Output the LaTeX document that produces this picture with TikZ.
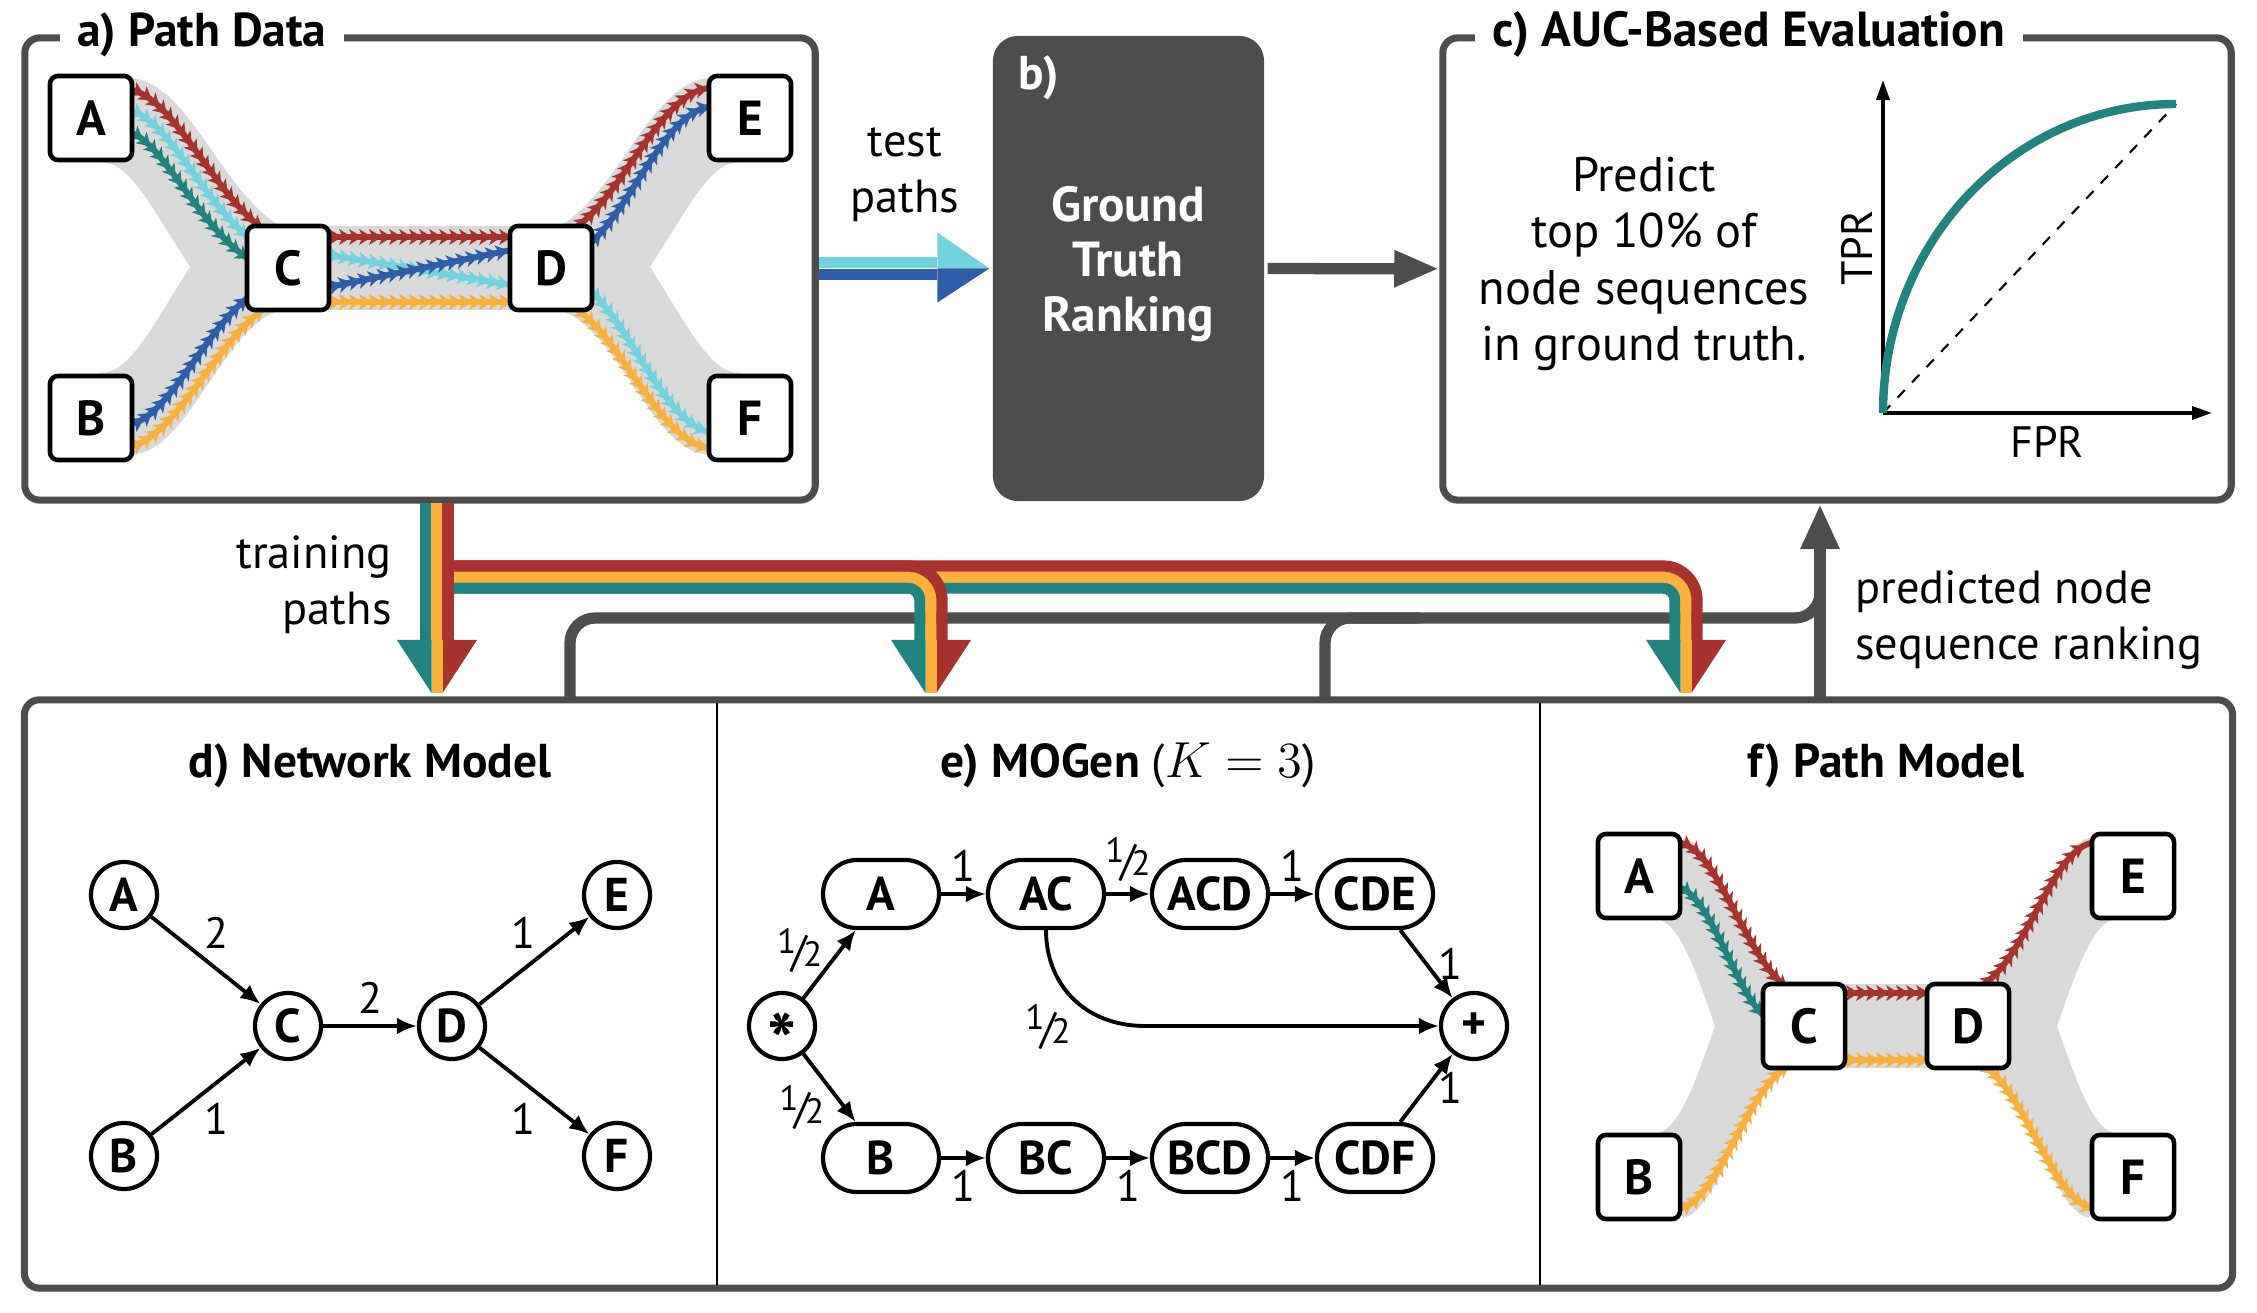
\documentclass[tikz,border=0pt]{standalone}
\usepackage{fontspec}
\setmainfont{PT Sans}
\usetikzlibrary{arrows.meta,calc,decorations.markings,shapes.misc}

\definecolor{pathred}{HTML}{A8322D}
\definecolor{pathorange}{HTML}{FBB03B}
\definecolor{pathteal}{HTML}{21837E}
\definecolor{pathcyan}{HTML}{72D3DF}
\definecolor{pathblue}{HTML}{2E5DAA}
\definecolor{panelgray}{HTML}{4D4D4D}
\definecolor{ribbongray}{HTML}{D9D9D9}

\newcommand{\halfw}{\raisebox{0.3em}{\fontsize{10}{10}\selectfont 1}\kern-0.1em/\kern-0.1em{\fontsize{10}{10}\selectfont 2}}

\tikzset{
  panel/.style={draw=panelgray, line width=2pt, rounded corners=0.15cm, fill=white, inner sep=0pt},
  paneltitle/.style={fill=white, anchor=base west, inner xsep=5pt, inner ysep=2pt, font=\fontsize{13.5}{16}\selectfont\bfseries},
  subtitle/.style={anchor=base, font=\fontsize{13.5}{16}\selectfont\bfseries},
  vbox/.style={draw, fill=white, line width=1.3pt, rounded corners=0.08cm, minimum width=0.82cm, minimum height=0.84cm, inner sep=0pt, font=\fontsize{14}{16}\selectfont\bfseries},
  vcirc/.style={draw, fill=white, circle, line width=1.2pt, minimum size=0.66cm, inner sep=0pt, font=\fontsize{13.5}{15}\selectfont\bfseries},
  seqnode/.style={draw, fill=white, rounded rectangle, line width=1.2pt, minimum width=1.16cm, minimum height=0.68cm, inner sep=0pt, font=\fontsize{13.5}{15}\selectfont\bfseries},
  link/.style={line width=1.1pt, -{Latex[length=0.2cm,width=0.17cm]}},
  weight/.style={font=\fontsize{12.5}{15}\selectfont, inner sep=3pt},
  txt/.style={font=\fontsize{13.2}{16}\selectfont, align=center},
  lane/.style={draw=#1, line width=1.7pt, postaction={decorate, decoration={markings, mark=between positions 0 and 1 step 0.1cm with {\fill[#1] (-0.1cm,-0.08cm) -- (0.03cm,0cm) -- (-0.1cm,0.08cm) -- (-0.065cm,0cm) -- cycle;}}}},
  stripe/.style={line width=3.2pt},
  predline/.style={draw=panelgray, line width=3.2pt},
}

\begin{document}
\begin{tikzpicture}[x=0.01cm, y=-0.01cm]
    % Picture size, one unit per pixel of the figure
    \useasboundingbox (0,0) rectangle (2257,1313);

    % Panels
    \node[panel, minimum width=7.9cm, minimum height=4.62cm] (pa) at (420,269) {};
    \node[panel, draw=none, fill=panelgray, rounded corners=0.25cm, minimum width=2.71cm, minimum height=4.65cm] (gt) at (1128.5,268.5) {};
    \node[panel, minimum width=7.88cm, minimum height=4.62cm] (auc) at (1837,269) {};
    \node[panel, minimum width=22.07cm, minimum height=5.88cm] (models) at (1128.5,994) {};
    \draw[line width=0.6pt] (717,703) -- (717,1285);
    \draw[line width=0.6pt] (1540,703) -- (1540,1285);

    \node[paneltitle] (ta) at (59,47) {a) Path Data};
    \node[paneltitle, font=\fontsize{14}{16}\selectfont\bfseries] (tc) at (1474,47) {c) AUC-Based Evaluation};
    \node[anchor=base west, inner sep=0pt, text=white, font=\fontsize{13.5}{16}\selectfont\bfseries] (tb) at (1018,90) {b)};
    \node[txt, text=white, font=\fontsize{14}{15.6}\selectfont\bfseries] (gtlabel) at (1128,264) {Ground\\Truth\\Ranking};

    % a) ribbons behind the paths
    \fill[ribbongray] (132,78) .. controls (190,85) and (220,190) .. (280,226) -- (560,226)
        .. controls (620,190) and (650,85) .. (708,78) -- (740,162)
        .. controls (710,162) and (690,205) .. (650,267) .. controls (690,330) and (710,373) .. (740,373)
        -- (708,455) .. controls (650,450) and (620,330) .. (560,310) -- (280,310)
        .. controls (220,330) and (190,450) .. (132,455) -- (100,373)
        .. controls (130,373) and (150,330) .. (190,267) .. controls (150,205) and (130,162) .. (100,162) -- cycle;

    % a) observed paths
    \draw[lane=pathred] (132,90) .. controls (175,100) and (215,195) .. (262,228);
    \draw[lane=pathcyan] (132,111) .. controls (170,122) and (205,205) .. (252,240);
    \draw[lane=pathteal] (132,133) .. controls (165,146) and (200,228) .. (250,260);
    \draw[lane=pathblue] (132,424) .. controls (170,414) and (205,330) .. (250,296);
    \draw[lane=pathorange] (132,446) .. controls (175,436) and (215,345) .. (262,310);
    \draw[lane=pathred] (329,237) -- (511,237);
    \draw[lane=pathcyan] (329,255) -- (511,285);
    \draw[lane=pathblue] (329,287) -- (511,250);
    \draw[lane=pathorange] (329,302) -- (511,302);
    \draw[lane=pathred] (578,226) .. controls (625,190) and (660,95) .. (708,88);
    \draw[lane=pathblue] (592,242) .. controls (635,200) and (665,115) .. (708,107);
    \draw[lane=pathcyan] (592,292) .. controls (635,335) and (665,420) .. (708,432);
    \draw[lane=pathorange] (578,310) .. controls (625,345) and (660,440) .. (708,448);

    \node[vbox] (aA) at (91,118) {A};
    \node[vbox] (aB) at (91,418) {B};
    \node[vbox] (aC) at (288,268) {C};
    \node[vbox] (aD) at (551,268) {D};
    \node[vbox] (aE) at (750,118) {E};
    \node[vbox] (aF) at (750,418) {F};

    % test paths into the ground truth
    \node[txt] (ttest) at (905,175) {test\\paths};
    \fill[pathcyan] ($(pa.east)+(0,-12)$) rectangle ($(gt.west)+(-52,0)$);
    \fill[pathblue] (pa.east) rectangle ($(gt.west)+(-52,12)$);
    \fill[pathcyan] ($(gt.west)+(-52,-36)$) -- (gt.west) -- ($(gt.west)+(-52,0)$) -- cycle;
    \fill[pathblue] ($(gt.west)+(-52,0)$) -- (gt.west) -- ($(gt.west)+(-52,34)$) -- cycle;

    \draw[predline, -{Triangle[length=0.45cm,width=0.34cm]}] (gt) -- (auc);

    % c) ROC sketch
    \node[txt, font=\fontsize{13.8}{16}\selectfont] (predict) at (1644,264) {Predict\\top 10\% of\\node sequences\\in ground truth.};
    \coordinate (o) at (1883,413);
    \coordinate (top) at (2176,104);
    \draw[line width=1pt, -{Triangle[length=0.2cm,width=0.13cm]}] (o) -- (1883,80);
    \draw[line width=1pt, -{Triangle[length=0.2cm,width=0.13cm]}] (o) -- (2212,413);
    \draw[dashed, line width=0.6pt] (o) -- (top);
    \draw[pathteal, line width=2.4pt] (o) .. controls (1883,242) and (2014,104) .. (top);
    \node[txt, rotate=90, font=\fontsize{12.5}{15}\selectfont] (tpr) at (1857,248) {TPR};
    \node[txt, font=\fontsize{12.5}{15}\selectfont] (fpr) at (2047,442) {FPR};

    % predicted rankings back to c)
    \coordinate (dTop) at (570,700);
    \coordinate (eTop) at (1325,700);
    \coordinate (fTop) at (1820,700);
    \coordinate (cBot) at (1820,504);
    \draw[predline, rounded corners=0.25cm] (dTop) -- (570,618) -- (1820,618) -- (1820,560);
    \draw[predline, rounded corners=0.25cm] (eTop) -- (1325,618) -- (1420,618);
    \draw[predline, -{Triangle[length=0.45cm,width=0.36cm]}] (fTop) -- (cBot);
    \node[txt, align=left, anchor=west] (tpred) at (1843,620) {predicted node\\sequence ranking};

    % training paths into the models
    \node[txt, align=right, anchor=east] (ttrain) at (404,585) {training\\paths};
    \foreach \c in {1686,931} {
        \draw[stripe, pathteal, rounded corners=0.12cm] (454,588) -- ({\c-11},588) -- ({\c-11},641);
        \draw[stripe, pathorange, rounded corners=0.23cm] (454,577) -- (\c,577) -- (\c,641);
        \draw[stripe, pathred, rounded corners=0.34cm] (454,566) -- ({\c+11},566) -- ({\c+11},641);
    }
    \draw[stripe, pathteal] (426,503) -- (426,641);
    \draw[stripe, pathorange] (437,503) -- (437,641);
    \draw[stripe, pathred] (448,503) -- (448,641);
    \foreach \c in {437,931,1686} {
        \fill[pathteal] ({\c-40},640) -- ({\c-5.5},640) -- ({\c-5.5},693) -- cycle;
        \fill[pathred] ({\c+5.5},640) -- ({\c+40},640) -- ({\c+5.5},693) -- cycle;
        \fill[pathorange] ({\c-5.5},640) rectangle ({\c+5.5},693);
    }

    % d) Network model
    \node[subtitle] (td) at (370,778) {d) Network Model};
    \node[vcirc] (dA) at (124,895) {A};
    \node[vcirc] (dB) at (124,1156) {B};
    \node[vcirc] (dC) at (288,1026) {C};
    \node[vcirc] (dD) at (452,1026) {D};
    \node[vcirc] (dE) at (617,895) {E};
    \node[vcirc] (dF) at (617,1156) {F};
    \draw[link] (dA) -- node[weight, above, xshift=3pt] (wAC) {2} (dC);
    \draw[link] (dB) -- node[weight, below, xshift=3pt] (wBC) {1} (dC);
    \draw[link] (dC) -- node[weight, above] (wCD) {2} (dD);
    \draw[link] (dD) -- node[weight, above, xshift=-3pt] (wDE) {1} (dE);
    \draw[link] (dD) -- node[weight, below, xshift=-3pt] (wDF) {1} (dF);

    % e) MOGen
    \node[subtitle] (te) at (1128,778) {e) MOGen {\mdseries(}\(K=3\){\mdseries)}};
    \node[vcirc] (estart) at (782,1026) {\fontsize{22}{22}\selectfont\smash{\raisebox{-0.56em}{*}}};
    \node[vcirc] (eend) at (1474,1026) {+};
    \node[seqnode] (eA) at (881,894) {A};
    \node[seqnode] (eAC) at (1046,894) {AC};
    \node[seqnode] (eACD) at (1210,894) {ACD};
    \node[seqnode] (eCDE) at (1375,894) {CDE};
    \node[seqnode] (eB) at (881,1158) {B};
    \node[seqnode] (eBC) at (1046,1158) {BC};
    \node[seqnode] (eBCD) at (1210,1158) {BCD};
    \node[seqnode] (eCDF) at (1375,1158) {CDF};
    \draw[link] (estart) -- node[weight, pos=0.6, left, yshift=2pt] (wsA) {\halfw} (eA.-125);
    \draw[link] (estart) -- node[weight, pos=0.64, left, yshift=-3pt] (wsB) {\halfw} (eB.125);
    \draw[link] (eA) -- node[weight, above] (wA) {1} (eAC);
    \draw[link] (eAC) -- node[weight, above] (wAC2) {\halfw} (eACD);
    \draw[link] (eACD) -- node[weight, above] (wACD) {1} (eCDE);
    \draw[link] (eCDE.-55) -- node[weight, right] (wCDE) {1} (eend);
    \draw[link] (eB) -- node[weight, below] (wB) {1} (eBC);
    \draw[link] (eBC) -- node[weight, below] (wBC2) {1} (eBCD);
    \draw[link] (eBCD) -- node[weight, below] (wBCD) {1} (eCDF);
    \draw[link] (eCDF.55) -- node[weight, right] (wCDF) {1} (eend);
    \draw[link] (eAC.south) .. controls (1046,985) and (1085,1026) .. (1145,1026) -- (eend);
    \node[weight] (wACe) at (1048,1027) {\halfw};

    % f) Path model
    \node[subtitle] (tf) at (1886,778) {f) Path Model};
    \fill[ribbongray] (1683,838) .. controls (1720,845) and (1745,960) .. (1790,984) -- (1982,984)
        .. controls (2027,960) and (2052,845) .. (2089,838) -- (2120,918)
        .. controls (2095,918) and (2080,960) .. (2057,1026) .. controls (2080,1092) and (2095,1134) .. (2120,1134)
        -- (2089,1218) .. controls (2052,1210) and (2027,1092) .. (1982,1068) -- (1790,1068)
        .. controls (1745,1092) and (1720,1210) .. (1683,1218) -- (1652,1134)
        .. controls (1677,1134) and (1692,1092) .. (1715,1026) .. controls (1692,960) and (1677,918) .. (1652,918) -- cycle;
    \draw[lane=pathred] (1681,843) .. controls (1720,852) and (1745,960) .. (1790,990);
    \draw[lane=pathteal] (1681,888) .. controls (1712,900) and (1735,990) .. (1764,1016);
    \draw[lane=pathorange] (1681,1208) .. controls (1720,1198) and (1745,1092) .. (1788,1066);
    \draw[lane=pathred] (1846,993) -- (1927,993);
    \draw[lane=pathorange] (1846,1060) -- (1927,1060);
    \draw[lane=pathred] (1984,984) .. controls (2027,955) and (2052,852) .. (2091,843);
    \draw[lane=pathorange] (1984,1066) .. controls (2027,1095) and (2052,1198) .. (2091,1208);
    \node[vbox] (fA) at (1639,876) {A};
    \node[vbox] (fB) at (1639,1177) {B};
    \node[vbox] (fC) at (1804,1026) {C};
    \node[vbox] (fD) at (1968,1026) {D};
    \node[vbox] (fE) at (2133,876) {E};
    \node[vbox] (fF) at (2133,1177) {F};

\end{tikzpicture}
\end{document}
